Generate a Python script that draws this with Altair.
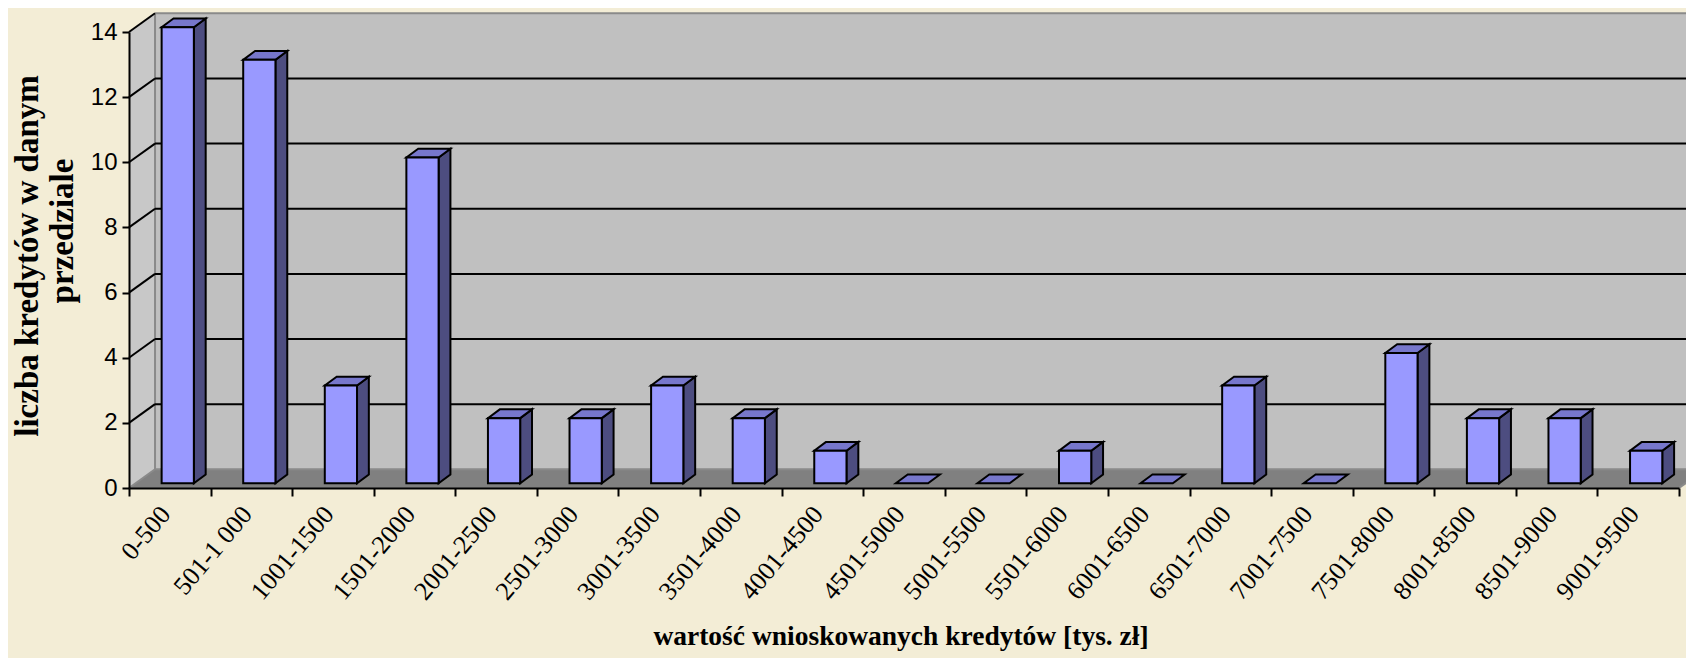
import altair as alt
import pandas as pd

# ---------------- data ----------------
categories = ["0-500", "501-1 000", "1001-1500", "1501-2000", "2001-2500",
              "2501-3000", "3001-3500", "3501-4000", "4001-4500", "4501-5000",
              "5001-5500", "5501-6000", "6001-6500", "6501-7000", "7001-7500",
              "7501-8000", "8001-8500", "8501-9000", "9001-9500"]
counts = [14, 13, 3, 10, 2, 2, 3, 2, 1, 0, 0, 1, 0, 3, 0, 4, 2, 2, 1]
y_ticks = [0, 2, 4, 6, 8, 10, 12, 14]
x_title = "wartość wnioskowanych kredytów [tys. zł]"
y_title = ["liczba kredytów w danym", "przedziale"]

# ---------------- geometry / style ----------------
N = len(categories)
YMAX = max(y_ticks)
DX, DY = 0.319, 0.574    # depth of floor & walls (data units)
BL, BR = 0.40, 0.795     # bar front face within category
BB = 0.145               # lift of bar front face above the floor front edge
SX, SY = 0.145, 0.27     # depth of a bar
W, H = 1557, 475
XR = 1550

FRONT, TOP, SIDE = "#9999ff", "#7777cc", "#4d4d80"
WALL, LWALL, FLOOR, EDGE = "#c0c0c0", "#c8c8c8", "#808080", "#8a8a8a"
BG = "#f3edd6"

xs = alt.Scale(domain=[0, N], range=[0, XR], nice=False, zero=False)
ys = alt.Scale(domain=[0, YMAX], range=[H, 19], nice=False, zero=False)

AX = alt.Axis(values=list(range(N + 1)), labels=False, tickSize=8, tickWidth=2,
              tickColor="black", domainColor="black", domainWidth=2,
              grid=False, title=None, zindex=1)
AY = alt.Axis(values=y_ticks, tickSize=7, tickWidth=2, tickColor="black",
              domainColor="black", domainWidth=2, grid=False, title=None,
              labelFont="Liberation Sans", labelFontSize=24, labelColor="black",
              labelPadding=5, zindex=1)

def X(f, **kw):
    return alt.X(f, type="quantitative", scale=xs, axis=AX, **kw)

def Y(f, **kw):
    return alt.Y(f, type="quantitative", scale=ys, axis=AY, **kw)

# ---------------- tables ----------------
bars = pd.DataFrame({"cat": categories, "count": counts, "i": list(range(N))})
bars["xl"] = bars["i"] + BL
bars["xr"] = bars["i"] + BR
bars["yb"] = BB
bars["yt"] = bars["count"] + BB
front_df = bars[bars["count"] > 0]

side_rows, top_rows = [], []
for _, r in bars.iterrows():
    for k in (0, 1):
        top_rows.append({"cat": r["cat"], "y": r["count"] + BB + k * SY,
                         "xa": r["i"] + BL + k * SX, "xb": r["i"] + BR + k * SX})
        if r["count"] > 0:
            side_rows.append({"cat": r["cat"], "x": r["i"] + BR + k * SX,
                              "ylo": BB + k * SY, "yhi": r["count"] + BB + k * SY})
side_df = pd.DataFrame(side_rows)
top_df = pd.DataFrame(top_rows)

wall_df = pd.DataFrame({"x0": [DX], "x1": [N + DX], "y0": [DY], "y1": [YMAX + DY]})
lwall_df = pd.DataFrame({"x": [0, DX], "ylo": [0, DY], "yhi": [YMAX, YMAX + DY], "g": ["a", "a"]})
floor_df = pd.DataFrame({"y": [0, DY], "xa": [0, DX], "xb": [N, N + DX], "g": ["a", "a"]})

grid_rows = []
for v in y_ticks[1:]:
    grid_rows.append({"x": 0, "x2": DX, "y": v, "y2": v + DY})            # side wall
    if v < YMAX:
        grid_rows.append({"x": DX, "x2": N + DX, "y": v + DY, "y2": v + DY})  # back wall
grid_df = pd.DataFrame(grid_rows)

edge_df = pd.DataFrame([
    {"x": DX, "x2": DX, "y": DY, "y2": YMAX + DY},
    {"x": DX, "x2": N + DX, "y": YMAX + DY, "y2": YMAX + DY},
    {"x": DX, "x2": N + DX, "y": DY, "y2": DY},
    {"x": 0, "x2": DX, "y": 0, "y2": DY},
    {"x": N, "x2": N + DX, "y": 0, "y2": DY},
])

lab_df = pd.DataFrame({"cat": categories, "lx": [i + 0.5 - 0.05 for i in range(N)]})

# ---------------- layers ----------------
wall = alt.Chart(wall_df).mark_rect(color=WALL).encode(
    x=X("x0:Q"), x2="x1:Q", y=Y("y0:Q"), y2="y1:Q")

lwall = alt.Chart(lwall_df).mark_area(color=LWALL).encode(
    x=X("x:Q"), y=Y("yhi:Q", stack=None), y2="ylo:Q", detail="g:N")

floor = alt.Chart(floor_df).mark_area(color=FLOOR, orient="horizontal").encode(
    y=Y("y:Q"), x=X("xa:Q", stack=None), x2="xb:Q", detail="g:N")

edges = alt.Chart(edge_df).mark_rule(color=EDGE, strokeWidth=2).encode(
    x=X("x:Q"), x2="x2:Q", y=Y("y:Q"), y2="y2:Q")

grid = alt.Chart(grid_df).mark_rule(color="black", strokeWidth=2).encode(
    x=X("x:Q"), x2="x2:Q", y=Y("y:Q"), y2="y2:Q")

side = alt.Chart(side_df).mark_area(color=SIDE, stroke="black", strokeWidth=2,
                                    strokeJoin="miter").encode(
    x=X("x:Q"), y=Y("yhi:Q", stack=None), y2="ylo:Q", detail="cat:N")

top = alt.Chart(top_df).mark_area(color=TOP, stroke="black", strokeWidth=2,
                                  orient="horizontal", strokeJoin="miter").encode(
    y=Y("y:Q"), x=X("xa:Q", stack=None), x2="xb:Q", detail="cat:N")

front = alt.Chart(front_df).mark_rect(color=FRONT, stroke="black", strokeWidth=2).encode(
    x=X("xl:Q"), x2="xr:Q", y=Y("yt:Q"), y2="yb:Q")

labels = alt.Chart(lab_df).mark_text(angle=310, align="right", baseline="middle",
                                     font="Liberation Serif", fontSize=26, color="black").encode(
    x=X("lx:Q"), y=alt.value(H + 22), text="cat:N")

xt = alt.Chart(pd.DataFrame({"t": [x_title]})).mark_text(
    font="Liberation Serif", fontSize=27.5, fontWeight="bold", color="black",
    align="center", baseline="middle").encode(
    x=alt.value(772), y=alt.value(H + 149), text="t:N")

yt1 = alt.Chart(pd.DataFrame({"t": [y_title[0]]})).mark_text(
    font="Liberation Serif", fontSize=33, fontWeight="bold", color="black",
    align="center", baseline="middle", angle=270).encode(
    x=alt.value(-101), y=alt.value(243), text="t:N")

yt2 = alt.Chart(pd.DataFrame({"t": [y_title[1]]})).mark_text(
    font="Liberation Serif", fontSize=33, fontWeight="bold", color="black",
    align="center", baseline="middle", angle=270).encode(
    x=alt.value(-66), y=alt.value(218), text="t:N")

chart = alt.layer(wall, lwall, floor, edges, grid, side, top, front, labels, xt, yt1, yt2).properties(
    width=W, height=H,
    autosize=alt.AutoSizeParams(type="none"),
    padding={"left": 121, "top": 5, "right": 0, "bottom": 170},
    background=BG,
).configure_view(stroke=None)

chart.save("out.html", embed_options={"renderer": "svg", "actions": False})
